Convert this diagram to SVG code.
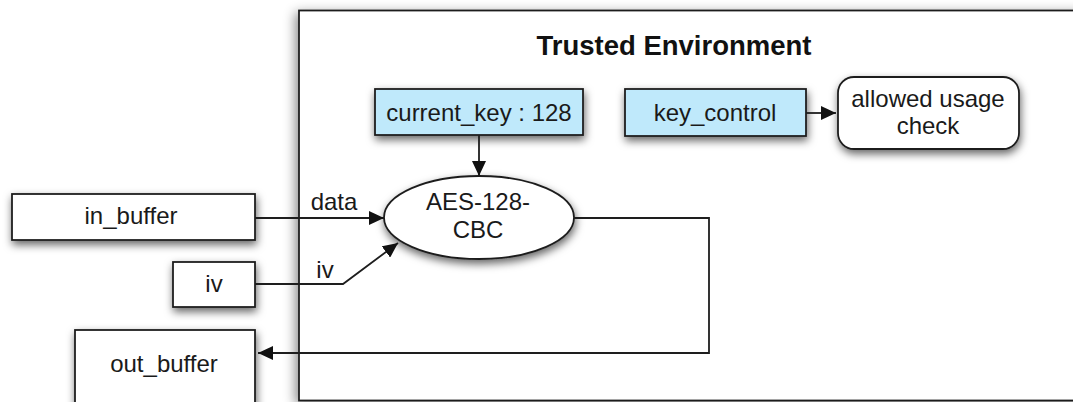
<svg xmlns="http://www.w3.org/2000/svg" width="1073" height="402" viewBox="0 0 1073 402">
<style>
.box{fill:#ffffff;stroke:#1e1e1e;stroke-width:1.8}
.key{fill:#bfe9fb;stroke:#1e1e1e;stroke-width:1.8}
.lbl{font-family:"Liberation Sans",Arial,sans-serif;font-size:24px;fill:#1a1a1a;text-anchor:middle}
.title{font-family:"Liberation Sans",Arial,sans-serif;font-size:27.5px;font-weight:bold;fill:#111;text-anchor:middle}
.conn{fill:none;stroke:#1e1e1e;stroke-width:1.8}
</style>
<defs>
<filter id="sh" x="-20%" y="-20%" width="140%" height="160%">
<feDropShadow dx="1" dy="4" stdDeviation="4" flood-color="#000" flood-opacity="0.6"/>
</filter>
<filter id="sh2" x="-10%" y="-10%" width="120%" height="130%">
<feDropShadow dx="-3" dy="3" stdDeviation="6" flood-color="#000" flood-opacity="0.45"/>
</filter>
<marker id="arr" markerUnits="userSpaceOnUse" markerWidth="16" markerHeight="14" refX="15" refY="7" orient="auto">
<path d="M0,0 L15,7 L0,14 z" fill="#111"/>
</marker>
</defs>
<rect width="1073" height="402" fill="#ffffff"/>

<g id="trusted">
<rect class="box" x="299" y="10.5" width="800" height="390" filter="url(#sh2)"/>
<text class="title" x="674" y="55">Trusted Environment</text>
</g>

<g id="current_key">
<rect class="key" x="375" y="89" width="208" height="46" filter="url(#sh)"/>
<text class="lbl" x="479" y="121">current_key : 128</text>
</g>

<g id="key_control">
<rect class="key" x="625" y="89" width="181" height="47" filter="url(#sh)"/>
<text class="lbl" x="715" y="121">key_control</text>
</g>

<g id="allowed_usage">
<rect class="box" x="838" y="77" width="181" height="72" rx="16" ry="16" filter="url(#sh)"/>
<text class="lbl" x="928" y="107">allowed usage</text>
<text class="lbl" x="928" y="134">check</text>
</g>

<g id="aes">
<ellipse class="box" cx="479" cy="217.5" rx="95" ry="41.5" filter="url(#sh)"/>
<text class="lbl" x="478" y="210">AES-128-</text>
<text class="lbl" x="478" y="238">CBC</text>
</g>

<g id="in_buffer">
<rect class="box" x="12" y="194" width="243" height="46" filter="url(#sh)"/>
<text class="lbl" x="131" y="224">in_buffer</text>
</g>

<g id="iv">
<rect class="box" x="173" y="262" width="82" height="45" filter="url(#sh)"/>
<text class="lbl" x="214" y="292">iv</text>
</g>

<g id="out_buffer">
<rect class="box" x="75" y="330" width="180" height="100" filter="url(#sh)"/>
<text class="lbl" x="164" y="372">out_buffer</text>
</g>

<g id="connectors">
<path class="conn" d="M479,135 L479,176" marker-end="url(#arr)"/>
<path class="conn" d="M806,113 L836,113" marker-end="url(#arr)"/>
<path class="conn" d="M255,218 L384,218" marker-end="url(#arr)"/>
<path class="conn" d="M255,284 L343,284 L398,243" marker-end="url(#arr)"/>
<path class="conn" d="M574,218 L709,218 L709,353 L258,353" marker-end="url(#arr)"/>
<text class="lbl" x="334" y="210">data</text>
<text class="lbl" x="325" y="278">iv</text>
</g>
</svg>
